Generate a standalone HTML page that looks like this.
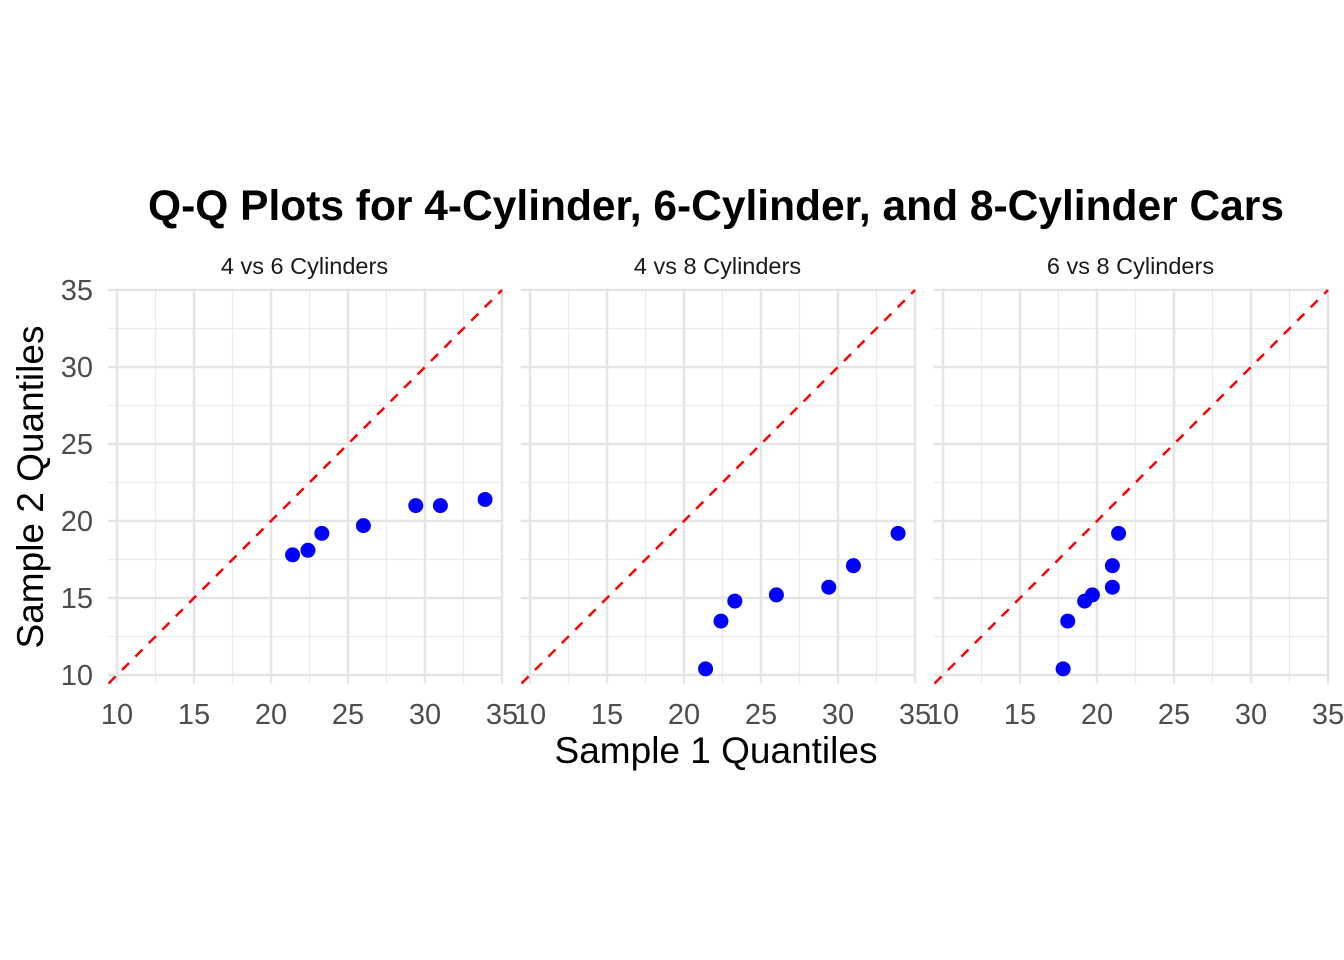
<!DOCTYPE html>
<html><head><meta charset="utf-8"><style>
html,body{margin:0;padding:0;background:#fff;}
svg{display:block;font-family:"Liberation Sans",Arial,sans-serif;}
</style></head><body>
<svg id="chart" width="1344" height="960" viewBox="0 0 1344 960" xmlns="http://www.w3.org/2000/svg">
<rect width="1344" height="960" fill="#fff"/>
<text x="716" y="220" text-anchor="middle" font-size="42.5" font-weight="bold" fill="#000">Q-Q Plots for 4-Cylinder, 6-Cylinder, and 8-Cylinder Cars</text>
<text x="716" y="763" text-anchor="middle" font-size="37" fill="#000">Sample 1 Quantiles</text>
<text transform="translate(43,487) rotate(-90)" text-anchor="middle" font-size="37" fill="#000">Sample 2 Quantiles</text>
<g id="panels"></g>
</svg>
<script>
const panelTitles = ["4 vs 6 Cylinders", "4 vs 8 Cylinders", "6 vs 8 Cylinders"];
const xTicks = [10, 15, 20, 25, 30, 35];
const yTicks = [10, 15, 20, 25, 30, 35];
const p1x = [21.4, 22.4, 23.3, 26.0, 29.4, 31.0, 33.9];
const p1y = [17.8, 18.1, 19.2, 19.7, 21.0, 21.0, 21.4];
const p2x = [21.4, 22.4, 23.3, 26.0, 29.4, 31.0, 33.9];
const p2y = [10.4, 13.5, 14.8, 15.2, 15.7, 17.1, 19.2];
const p3x = [17.8, 18.1, 19.2, 19.7, 21.0, 21.0, 21.4];
const p3y = [10.4, 13.5, 14.8, 15.2, 15.7, 17.1, 19.2];
const seriesX = [p1x, p2x, p3x];
const seriesY = [p1y, p2y, p3y];

const NS = "http://www.w3.org/2000/svg";
const g = document.getElementById('panels');
const offsets = [117, 530, 943];
const k = 15.4;
const xMin = 9.4, xMax = 35, yMin = 9.45, yMax = 35.1;
function yS(v){ return 675 - (v - 10) * k; }
function mk(tag, attrs){ const e = document.createElementNS(NS, tag); for (const a in attrs) e.setAttribute(a, attrs[a]); return e; }

for (let p = 0; p < 3; p++) {
  const o = offsets[p];
  const xS = v => o + (v - 10) * k;
  const pg = mk('g', {});
  
  
  g.appendChild(pg);
  const L = xS(xMin), R = xS(xMax), T = yS(yMax), B = yS(yMin);
  for (let i = 0; i < xTicks.length - 1; i++) {
    const m = (xTicks[i] + xTicks[i + 1]) / 2;
    const l = mk('line', {x1: xS(m), x2: xS(m), y1: T, y2: B, stroke: '#ebebeb', 'stroke-width': 1.3});
    
    
    pg.appendChild(l);
    const my = (yTicks[i] + yTicks[i + 1]) / 2;
    const l2 = mk('line', {x1: L, x2: R, y1: yS(my), y2: yS(my), stroke: '#ebebeb', 'stroke-width': 1.3});
    
    
    pg.appendChild(l2);
  }
  xTicks.forEach(t => {
    const l = mk('line', {x1: xS(t), x2: xS(t), y1: T, y2: B, stroke: '#e5e5e5', 'stroke-width': 2.5});
    
    
    pg.appendChild(l);
    const tx = mk('text', {x: xS(t), y: 724, 'text-anchor': 'middle', 'font-size': 29, fill: '#4d4d4d'});
    tx.textContent = t;
    
    
    pg.appendChild(tx);
  });
  yTicks.forEach(t => {
    const l = mk('line', {x1: L, x2: R, y1: yS(t), y2: yS(t), stroke: '#e5e5e5', 'stroke-width': 2.5});
    
    
    pg.appendChild(l);
    if (p === 0) {
      const tx = mk('text', {x: 93, y: yS(t) + 10, 'text-anchor': 'end', 'font-size': 29, fill: '#4d4d4d'});
      tx.textContent = t;
      
      
      pg.appendChild(tx);
    }
  });
  const st = mk('text', {x: (xS(10) + xS(35)) / 2 - 5, y: 274, 'text-anchor': 'middle', 'font-size': 23.5, fill: '#1a1a1a'});
  st.textContent = panelTitles[p];
  
  
  pg.appendChild(st);
  const lo = Math.max(xMin, yMin), hi = Math.min(xMax, yMax);
  const ln = mk('line', {x1: xS(lo), y1: yS(lo), x2: xS(hi), y2: yS(hi), stroke: '#ff0000', 'stroke-width': 2.5, 'stroke-dasharray': '10,9'});
  
  
  pg.appendChild(ln);
  const xs = seriesX[p], ys = seriesY[p];
  for (let i = 0; i < xs.length; i++) {
    const c = mk('circle', {cx: xS(xs[i]), cy: yS(ys[i]), r: 7.5, fill: '#0000ff'});
    
    
    pg.appendChild(c);
  }
}
</script>
</body></html>
